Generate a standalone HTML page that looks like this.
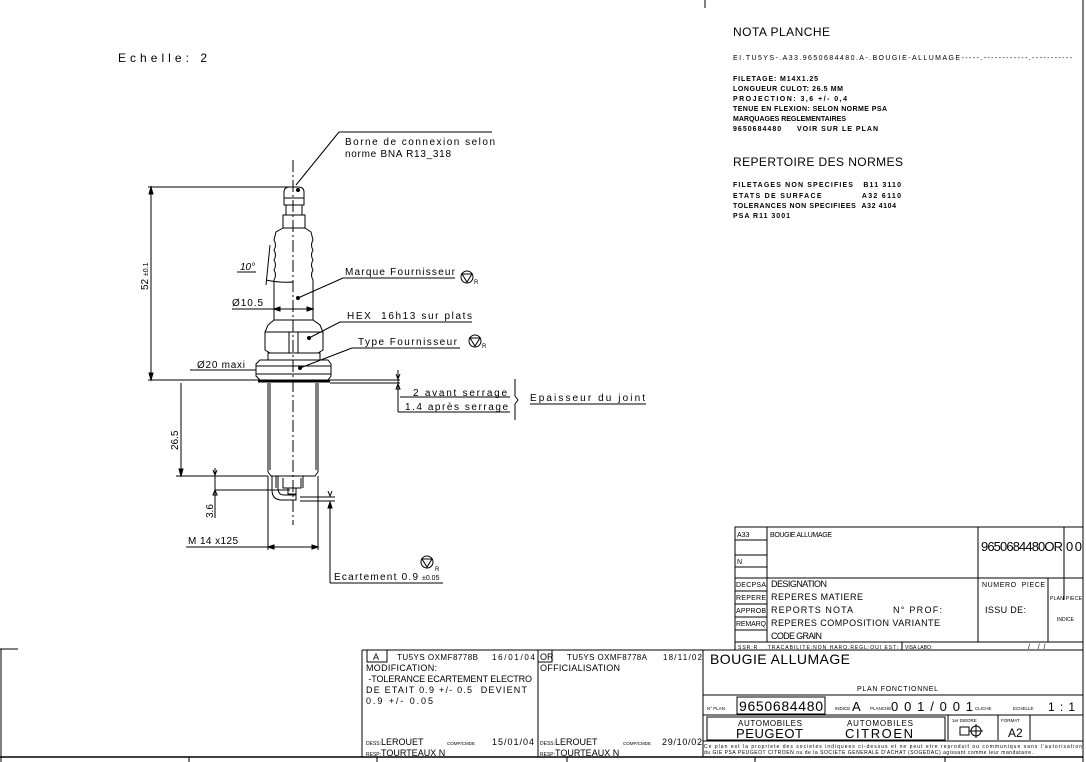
<!DOCTYPE html>
<html><head><meta charset="utf-8"><style>
html,body{margin:0;padding:0;background:#fff;}
svg{display:block;}
text{font-family:"Liberation Sans",sans-serif;fill:#000;}
.s{font-size:8px;}
.m{font-size:10px;}
.c{font-size:11px;letter-spacing:0.5px;}
</style></head><body>
<svg width="1086" height="762" viewBox="0 0 1086 762" xmlns="http://www.w3.org/2000/svg">
<g stroke="#000" fill="none" stroke-width="1">
<line x1="1083" y1="0" x2="1083" y2="762"/>
<line x1="705" y1="0" x2="705" y2="8"/>
<line x1="0" y1="649" x2="18" y2="649"/>
<line x1="1" y1="649" x2="1" y2="762"/>
<line x1="0" y1="757" x2="1083" y2="757" stroke-width="1.5"/>
<line x1="189" y1="757" x2="189" y2="762"/>
<line x1="377" y1="757" x2="377" y2="762"/>
<line x1="567" y1="757" x2="567" y2="762"/>
<line x1="755" y1="757" x2="755" y2="762"/>
<line x1="945" y1="757" x2="945" y2="762"/>

<line x1="293" y1="160" x2="293" y2="525" stroke-dasharray="12,3,2,3"/>
<path d="M284,205 L284,192 Q284,187 290,187 L298,187 Q304,187 304,192 L304,205 Z"/>
<line x1="284" y1="198" x2="304" y2="198"/>
<line x1="286" y1="205" x2="286" y2="215"/><line x1="302" y1="205" x2="302" y2="215"/>
<rect x="283" y="215" width="22" height="13"/>
<path d="M283,228 L276,232 L274,240 Q277,245 274,250 Q277,255 274,260 Q277,265 274,270 Q277,275 274,280 L274,320"/>
<path d="M305,228 L311,232 L313,240 Q310,245 313,250 Q310,255 313,260 Q310,265 313,270 Q310,275 313,280 L313,320"/>
<path d="M274,320 L268,325 L265,332 L265,350 L270,353 L318,353 L323,350 L323,332 L320,325 L313,320 Z"/>
<line x1="265" y1="332" x2="323" y2="332"/>
<line x1="289" y1="332" x2="289" y2="353"/><line x1="298" y1="332" x2="298" y2="353"/>
<rect x="268" y="353" width="52" height="7"/>
<path d="M260,360 L328,360 L331,364 L331,376 L328,380 L260,380 L256,376 L256,364 Z"/>
<line x1="256" y1="366" x2="331" y2="366"/><line x1="256" y1="374" x2="331" y2="374"/>
<line x1="258" y1="381" x2="330" y2="381" stroke-width="3"/>
<line x1="268" y1="383" x2="268" y2="472"/><line x1="318" y1="383" x2="318" y2="472"/>
<line x1="270" y1="383" x2="270" y2="470"/><line x1="316" y1="383" x2="316" y2="470"/>
<path d="M268,472 L271,476 L315,476 L318,472"/>
<path d="M276,476 L276,488 M303,476 L303,488"/>
<path d="M283,478 L283,488 L301,488 L301,478"/>
<rect x="288" y="488" width="8" height="6"/>
<path d="M272,476 L272,490 Q272,500 282,500 L296,500 L296,495 L284,495 Q278,495 278,488 L278,476"/>
<line x1="148" y1="380" x2="258" y2="380"/>
<line x1="148" y1="187" x2="290" y2="187"/>
<line x1="151" y1="187" x2="151" y2="380"/>
<path d="M151,187 l-2,7 h4z M151,380 l-2,-7 h4z" fill="#000"/>
<line x1="330" y1="380" x2="400" y2="380"/>
<line x1="330" y1="383" x2="400" y2="383"/>
<line x1="398" y1="370" x2="398" y2="412"/>
<line x1="398" y1="412" x2="510" y2="412"/>
<path d="M396,374 l2,5 l2,-5 M398,384 l-2,5 h4z" />
<line x1="181" y1="383" x2="181" y2="476"/>
<line x1="176" y1="476" x2="268" y2="476"/>
<path d="M181,476 l-2,-7 h4z" fill="#000"/>
<line x1="215" y1="468" x2="215" y2="518"/>
<line x1="215" y1="490" x2="290" y2="490"/>
<path d="M213,470 l2,5 l2,-5 M215,490 l-2,5 h4z"/>
<line x1="300" y1="497" x2="335" y2="497"/><line x1="300" y1="501" x2="335" y2="501"/>
<path d="M328,491 l2,5 l2,-5"/>
<line x1="330" y1="502" x2="330" y2="583"/>
<path d="M330,502 l-2,6 h4z" fill="#000"/>
<line x1="330" y1="583" x2="443" y2="583"/>
<line x1="268" y1="476" x2="268" y2="550"/><line x1="318" y1="476" x2="318" y2="550"/>
<line x1="186" y1="547" x2="318" y2="547"/>
<path d="M268,547 l6,-2 v4z M318,547 l-6,-2 v4z" fill="#000"/>
<line x1="296" y1="185" x2="339" y2="132"/><line x1="339" y1="132" x2="492" y2="132"/>
<line x1="298" y1="298" x2="343" y2="278"/><line x1="343" y1="278" x2="455" y2="278"/>
<line x1="309" y1="338" x2="340" y2="322"/><line x1="340" y1="322" x2="472" y2="322"/>
<line x1="300" y1="368" x2="352" y2="348"/><line x1="352" y1="348" x2="460" y2="348"/>
<line x1="190" y1="370" x2="256" y2="370"/>
<line x1="232" y1="309" x2="313" y2="309"/>
<path d="M274,309 l6,-2 v4z M313,309 l-6,-2 v4z" fill="#000"/>
<line x1="237" y1="272" x2="256" y2="272"/>
<line x1="270" y1="245" x2="266" y2="285"/>
<path d="M266,280 Q280,283 293,282"/>
<circle cx="467" cy="277" r="6"/><path d="M462,274 h10 l-5,8z"/>
<circle cx="475" cy="341" r="6"/><path d="M470,338 h10 l-5,8z"/>
<circle cx="427" cy="562" r="6"/><path d="M422,559 h10 l-5,8z"/>
<path d="M515,379 L515,396 L518,400 L515,404 L515,420"/>
<line x1="530" y1="404" x2="646" y2="404"/>
<line x1="400" y1="397" x2="510" y2="397"/>
</g>
<g fill="#000">
<circle cx="298" cy="190" r="2"/><circle cx="298" cy="298" r="2"/><circle cx="309" cy="338" r="2"/><circle cx="300" cy="368" r="2"/>
</g>
<text x="118" y="62" style="font-size:12px" textLength="89">Echelle: 2</text>
<text x="345" y="145" class="m" textLength="150">Borne de connexion selon</text>
<text x="345" y="157" class="m" textLength="106">norme BNA R13_318</text>
<text x="345" y="275" class="m" textLength="110">Marque Fournisseur</text>
<text x="347" y="319" class="m" textLength="125">HEX &#160;16h13 sur plats</text>
<text x="358" y="345" class="m" textLength="99">Type Fournisseur</text>
<text x="197" y="368" class="m" textLength="48">Ø20 maxi</text>
<text x="232" y="306" class="m" textLength="31">Ø10.5</text>
<text x="240" y="270" class="m" style="font-style:italic">10°</text>
<text x="474" y="284" style="font-size:6px">R</text>
<text x="482" y="348" style="font-size:6px">R</text>
<text x="435" y="571" style="font-size:6px">R</text>
<text x="413" y="396" class="m" textLength="94">2 avant serrage</text>
<text x="405" y="410" class="m" textLength="103">1.4 après serrage</text>
<text x="530" y="401" class="m" textLength="115">Epaisseur du joint</text>
<text x="334" y="580" class="m" textLength="84">Ecartement 0.9</text>
<text x="422" y="580" style="font-size:7px">±0.05</text>
<text x="188" y="544" class="m" textLength="50">M 14 x125</text>
<text transform="translate(148,290) rotate(-90)" class="m">52 <tspan style="font-size:7px">±0.1</tspan></text>
<text transform="translate(178,450) rotate(-90)" class="m">26.5</text>
<text transform="translate(213,518) rotate(-90)" class="m">3.6</text>

<text x="733" y="36" style="font-size:12px" textLength="97">NOTA PLANCHE</text>
<text x="733" y="60" style="font-size:7px" textLength="339">EI.TU5YS-.A33.9650684480.A-.BOUGIE-ALLUMAGE-----.------------.-----------</text>
<g style="font-size:7px;font-weight:bold">
<text x="733" y="81" textLength="85">FILETAGE: M14X1.25</text>
<text x="733" y="91" textLength="110">LONGUEUR CULOT: 26.5 MM</text>
<text x="733" y="101" textLength="114">PROJECTION: 3,6 +/- 0,4</text>
<text x="733" y="111" textLength="154">TENUE EN FLEXION: SELON NORME PSA</text>
<text x="733" y="121" textLength="113">MARQUAGES REGLEMENTAIRES</text>
<text x="733" y="131" textLength="145">9650684480 &#160;&#160;&#160;&#160;VOIR SUR LE PLAN</text>
<text x="733" y="187" textLength="168">FILETAGES NON SPECIFIES &#160;&#160;B11 3110</text>
<text x="733" y="198" textLength="168">ETATS DE SURFACE &#160;&#160;&#160;&#160;&#160;&#160;&#160;&#160;&#160;&#160;&#160;A32 6110</text>
<text x="733" y="208" textLength="163">TOLERANCES NON SPECIFIEES &#160;A32 4104</text>
<text x="733" y="218" textLength="57">PSA R11 3001</text>
</g>
<text x="733" y="166" style="font-size:12px" textLength="170">REPERTOIRE DES NORMES</text>

<g stroke="#000" fill="none">
<rect x="735" y="527" width="348" height="123"/>
<line x1="767" y1="527" x2="767" y2="642"/>
<line x1="978" y1="527" x2="978" y2="642"/>
<line x1="1064" y1="527" x2="1064" y2="600"/>
<line x1="1048" y1="578" x2="1048" y2="642"/>
<line x1="735" y1="540" x2="767" y2="540"/>
<line x1="735" y1="555" x2="767" y2="555"/>
<line x1="735" y1="567" x2="767" y2="567"/>
<line x1="735" y1="578" x2="1083" y2="578"/>
<line x1="735" y1="591" x2="767" y2="591"/>
<line x1="735" y1="604" x2="767" y2="604"/>
<line x1="735" y1="617" x2="767" y2="617"/>
<line x1="735" y1="630" x2="767" y2="630"/>
<line x1="735" y1="642" x2="1083" y2="642"/>
<line x1="902" y1="642" x2="902" y2="650"/>
<line x1="362" y1="650" x2="1083" y2="650"/>
<line x1="362" y1="650" x2="362" y2="757"/>
<line x1="538" y1="650" x2="538" y2="757"/>
<line x1="703" y1="650" x2="703" y2="757"/>
<rect x="367" y="650" width="20" height="12"/>
<rect x="538" y="650" width="14" height="12"/>
<line x1="703" y1="695" x2="1083" y2="695"/>
<rect x="737" y="697" width="88" height="17"/>
<line x1="703" y1="715" x2="1083" y2="715"/>
<rect x="707" y="717" width="238" height="23"/>
<line x1="948" y1="715" x2="948" y2="740"/>
<line x1="998" y1="715" x2="998" y2="740"/>
<line x1="1030" y1="715" x2="1030" y2="740"/>
<line x1="703" y1="741" x2="1083" y2="741"/>
<rect x="960" y="727" width="9" height="8"/><circle cx="976" cy="731" r="5"/><line x1="969" y1="731" x2="983" y2="731"/><line x1="976" y1="724" x2="976" y2="738"/>
</g>
<g style="font-size:7px">
<text x="737" y="537">A33</text>
<text x="770" y="537" textLength="62">BOUGIE ALLUMAGE</text>
<text x="737" y="564">N</text>
<text x="736" y="587" textLength="30">DECPSA</text><text x="736" y="600" textLength="30">REPERE</text><text x="736" y="613" textLength="30">APPROB</text><text x="736" y="626" textLength="30">REMARQ</text>
<text x="982" y="587" textLength="63">NUMERO &#160;PIECE</text>
<text x="1050" y="600" style="font-size:5px" textLength="32">PLAN PIECE</text>
<text x="1057" y="621" style="font-size:5px">INDICE</text>
<text x="738" y="649" style="font-size:5px" textLength="160">SSR:R &#160;&#160;&#160;TRACABILITE:NON HARQ.REGL:OUI EST:</text>
<text x="905" y="649" style="font-size:5px">VISA LABO:</text>
<text x="1028" y="649">/ &#160;&#160;&#160;/ &#160;/</text>
</g>
<text x="981" y="551" style="font-size:13px" textLength="82">9650684480OR</text>
<text x="1066" y="551" style="font-size:13px" textLength="16">00</text>
<g style="font-size:9px">
<text x="771" y="587" textLength="56">DESIGNATION</text>
<text x="771" y="600" textLength="92">REPERES MATIERE</text>
<text x="771" y="613" textLength="82">REPORTS NOTA</text>
<text x="893" y="613" textLength="49">N° PROF:</text>
<text x="771" y="626" textLength="169">REPERES COMPOSITION VARIANTE</text>
<text x="771" y="639" textLength="51">CODE GRAIN</text>
<text x="985" y="613" textLength="41">ISSU DE:</text>
<text x="373" y="660">A</text>
<text x="397" y="660" style="font-size:8px" textLength="81">TU5YS OXMF8778B</text>
<text x="492" y="660" style="font-size:8px" textLength="43">16/01/04</text>
<text x="540" y="660">OR</text>
<text x="567" y="660" style="font-size:8px" textLength="80">TU5YS OXMF8778A</text>
<text x="663" y="660" style="font-size:8px" textLength="39">18/11/02</text>
<text x="366" y="671" textLength="71">MODIFICATION:</text>
<text x="366" y="682" textLength="166">&#160;-TOLERANCE ECARTEMENT ELECTRO</text>
<text x="366" y="693" textLength="161">DE ETAIT 0.9 +/- 0.5 &#160;DEVIENT</text>
<text x="366" y="704" textLength="67">0.9 +/- 0.05</text>
<text x="540" y="671" textLength="80">OFFICIALISATION</text>
<text x="366" y="745"><tspan style="font-size:5px">DESS:</tspan>LEROUET</text>
<text x="366" y="756"><tspan style="font-size:5px">RESP:</tspan>TOURTEAUX N</text>
<text x="492" y="745" textLength="42">15/01/04</text>
<text x="540" y="745"><tspan style="font-size:5px">DESS:</tspan>LEROUET</text>
<text x="540" y="756"><tspan style="font-size:5px">RESP:</tspan>TOURTEAUX N</text>
<text x="662" y="745" textLength="40">29/10/02</text>
</g>
<text x="447" y="745" style="font-size:4.5px">COMP/CMDE</text>
<text x="623" y="745" style="font-size:4.5px">COMP/CMDE</text>
<text x="710" y="664" style="font-size:14px" textLength="140">BOUGIE ALLUMAGE</text>
<text x="857" y="691" style="font-size:7px" textLength="81">PLAN FONCTIONNEL</text>
<text x="707" y="710" style="font-size:4.5px">N° PLAN</text>
<text x="739" y="711" style="font-size:14px" textLength="84">9650684480</text>
<text x="835" y="710" style="font-size:4.5px">INDICE</text><text x="852" y="711" style="font-size:13px">A</text>
<text x="870" y="710" style="font-size:4.5px">PLANCHE</text><text x="891" y="711" style="font-size:13px" textLength="82">001/001</text>
<text x="975" y="710" style="font-size:4.5px">CLICHE</text>
<text x="1013" y="710" style="font-size:4.5px">ECHELLE</text><text x="1048" y="711" style="font-size:12px" textLength="27">1:1</text>
<text x="738" y="726" style="font-size:8px" textLength="64">AUTOMOBILES</text>
<text x="736" y="738" style="font-size:13px" textLength="67">PEUGEOT</text>
<text x="847" y="726" style="font-size:8px" textLength="66">AUTOMOBILES</text>
<text x="845" y="738" style="font-size:13px" textLength="68">CITROEN</text>
<text x="952" y="722" style="font-size:4.5px">1er DIEDRE</text>
<text x="1001" y="722" style="font-size:4.5px">FORMAT</text>
<text x="1008" y="737" style="font-size:12px">A2</text>
<text x="704" y="748" style="font-size:5px" textLength="378">Ce plan est la propriete des societes indiquees ci-dessus et ne peut etre reproduit ou communique sans l'autorisation</text>
<text x="704" y="754" style="font-size:5px" textLength="329">du GIE PSA PEUGEOT CITROEN ou de la SOCIETE GENERALE D'ACHAT (SOGEDAC) agissant comme leur mandataire.</text>
</svg>
</body></html>
